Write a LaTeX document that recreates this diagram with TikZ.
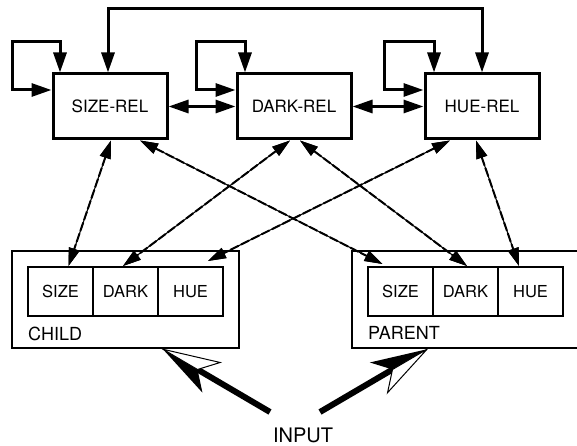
\documentclass[tikz,border=0pt]{standalone}
\usepackage{fontspec}
\setmainfont{TeX Gyre Heros}
\usetikzlibrary{arrows.meta,calc}

\begin{document}
\begin{tikzpicture}[x=1pt,y=-1pt,
  relbox/.style={draw, line width=3pt, minimum width=114pt, minimum height=65pt,
    inner sep=0pt, font=\fontsize{17}{20}\selectfont},
  cellbox/.style={draw, line width=2pt, minimum width=65pt, minimum height=49pt,
    inner sep=0pt, font=\fontsize{16.5}{20}\selectfont},
  groupbox/.style={draw, line width=2.5pt, minimum height=97pt, inner sep=0pt},
  grouplabel/.style={anchor=west, inner sep=0pt, font=\fontsize{18}{21}\selectfont},
  solidlink/.style={line width=3pt,
    {Triangle[length=20pt,width=13pt]}-{Triangle[length=20pt,width=13pt]}},
  dashlink/.style={line width=2pt, dash pattern=on 9pt off 2.5pt,
    preaction={draw, line width=1.1pt, solid},
    {Triangle[length=18pt,width=11pt]}-{Triangle[length=18pt,width=11pt]}},
  inshaft/.style={line width=6pt},
]
\useasboundingbox (0,0) rectangle (577,446);
\clip (0,0) rectangle (577,446);

% relation units
\node[relbox] (sizerel) at (110,106.5) {SIZE-REL};
\node[relbox] (darkrel) at (294,106.5) {DARK-REL};
\node[relbox] (huerel)  at (482,106.5) {HUE-REL};

% child and parent groups
\node[groupbox, minimum width=227pt] (child)  at (125.5,299.5) {};
\node[groupbox, minimum width=240pt] (parent) at (472,299.5) {};
\node[cellbox] (csize) at (60.5,291.5)  {SIZE};
\node[cellbox] (cdark) at (125.5,291.5) {DARK};
\node[cellbox] (chue)  at (190.5,291.5) {HUE};
\node[cellbox] (psize) at (400.5,291.5) {SIZE};
\node[cellbox] (pdark) at (465.5,291.5) {DARK};
\node[cellbox] (phue)  at (530.5,291.5) {HUE};
\node[grouplabel] (childlbl)  at (28,334)  {CHILD};
\node[grouplabel] (parentlbl) at (368,333) {PARENT};

\node[inner sep=0pt, font=\fontsize{20}{24}\selectfont] (input) at (303,435.5) {INPUT};

% self loops
\draw[solidlink] ([xshift=8.5pt]sizerel.north west) |- ++(-48,-30.5) |- ([yshift=16.5pt]sizerel.west);
\draw[solidlink] ([xshift=9.5pt]darkrel.north west) |- ++(-49,-30.5) |- ([yshift=16.5pt]darkrel.west);
\draw[solidlink] ([xshift=10.5pt]huerel.north west) |- ++(-50,-30.5) |- ([yshift=16.5pt]huerel.west);

% links between relation units
\draw[solidlink] (sizerel) -- (darkrel);
\draw[solidlink] (darkrel) -- (huerel);
\draw[solidlink] ([xshift=-2pt]sizerel.north) -- ++(0,-63.5) -| (huerel.north);

% links to the attribute cells
\draw[dashlink] ([xshift=1pt]sizerel.south) -- ([xshift=8pt]csize.north);
\draw[dashlink] ([xshift=30pt]sizerel.south) -- ([xshift=-18pt,yshift=2pt]psize.north);
\draw[dashlink] ([xshift=-4pt]darkrel.south) -- ([xshift=-2.5pt]cdark.north);
\draw[dashlink] ([xshift=6pt]darkrel.south) -- ([xshift=1.5pt]pdark.north);
\draw[dashlink] ([xshift=-32pt]huerel.south) -- ([xshift=17.5pt,yshift=5pt]chue.north);
\draw[dashlink] ([xshift=-6pt]huerel.south) -- ([xshift=-11.5pt]phue.north);

% input arrows
\coordinate (tailL) at (270,412);
\coordinate (tipL) at ([xshift=37.5pt]child.south);
\coordinate (nL) at ($(tipL)!40pt!(tailL)$);
\coordinate (aL) at ($(tipL)!56pt!(tailL)$);
\coordinate (wL) at ($(aL)!17.5pt!90:(tailL)$);
\coordinate (bL) at ($(aL)!17.5pt!-90:(tailL)$);
\draw[inshaft] (tailL) -- (nL);
\fill (tipL) -- (bL) -- (nL) -- cycle;
\filldraw[fill=white, line width=1pt, line join=miter] (tipL) -- (wL) -- (nL) -- cycle;

\coordinate (tailR) at (320,412);
\coordinate (tipR) at ([xshift=-45pt]parent.south);
\coordinate (nR) at ($(tipR)!40pt!(tailR)$);
\coordinate (aR) at ($(tipR)!56pt!(tailR)$);
\coordinate (wR) at ($(aR)!17.5pt!90:(tailR)$);
\coordinate (bR) at ($(aR)!17.5pt!-90:(tailR)$);
\draw[inshaft] (tailR) -- (nR);
\fill (tipR) -- (bR) -- (nR) -- cycle;
\filldraw[fill=white, line width=1pt, line join=miter] (tipR) -- (wR) -- (nR) -- cycle;
\end{tikzpicture}
\end{document}
